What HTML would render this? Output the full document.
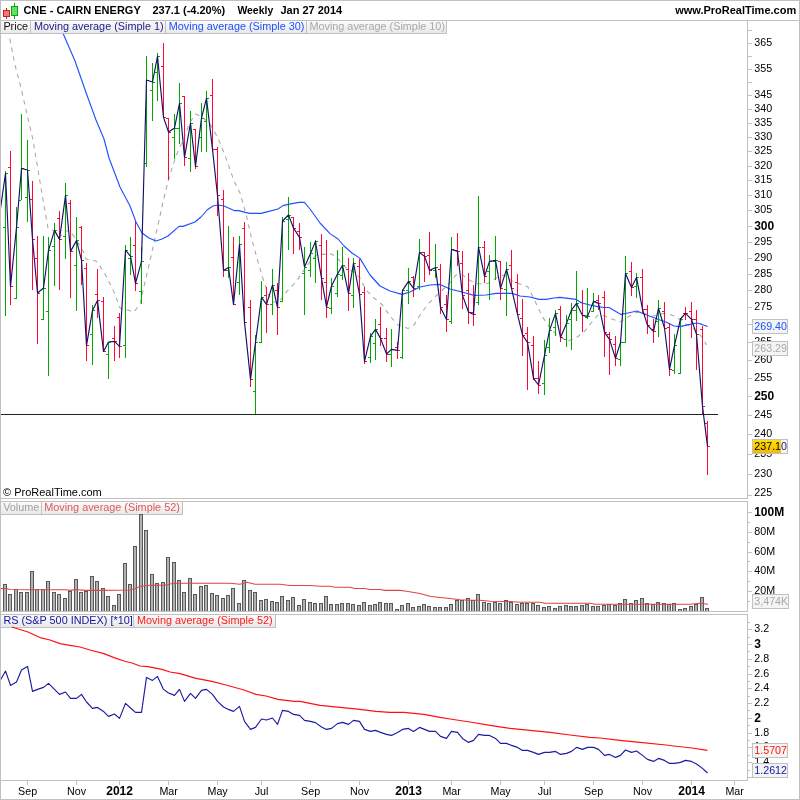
<!DOCTYPE html>
<html lang="en"><head><meta charset="utf-8"><title>CNE - CAIRN ENERGY Weekly</title>
<style>html,body{margin:0;padding:0;background:#fff;}svg{display:block;}text{font-family:"Liberation Sans", Arial, Helvetica, sans-serif;font-size:11px;fill:#000;}.b{font-weight:bold;}.crisp{shape-rendering:crispEdges;}</style></head><body>
<svg width="800" height="800" viewBox="0 0 800 800">
<rect x="0" y="0" width="800" height="800" fill="#ffffff"/>
<defs>
<clipPath id="cp"><rect x="1" y="21" width="746" height="477"/></clipPath>
<clipPath id="cv"><rect x="1" y="502" width="746" height="109"/></clipPath>
<clipPath id="cr"><rect x="1" y="615" width="746" height="165"/></clipPath>
<linearGradient id="tg" x1="0" y1="0" x2="0" y2="1"><stop offset="0" stop-color="#fafafa"/><stop offset="1" stop-color="#e9e9e9"/></linearGradient>
<linearGradient id="yg" x1="0" y1="0" x2="0" y2="1"><stop offset="0" stop-color="#ffe000"/><stop offset="1" stop-color="#f3ba00"/></linearGradient>
</defs>
<g class="crisp" fill="none" stroke="#c0c0c0" stroke-width="1">
<rect x="0.5" y="0.5" width="799" height="799"/>
<line x1="0" y1="20.5" x2="800" y2="20.5"/>
<rect x="0.5" y="20.5" width="747" height="478"/>
<rect x="0.5" y="501.5" width="747" height="110"/>
<rect x="0.5" y="614.5" width="747" height="166"/>
</g>
<g class="crisp">
<line x1="6.5" y1="8" x2="6.5" y2="19" stroke="#cc2222"/>
<rect x="3.5" y="10.5" width="6" height="6" fill="#f27878" stroke="#cc2222"/>
<line x1="14.5" y1="3" x2="14.5" y2="19" stroke="#10a010"/>
<rect x="11.5" y="6.5" width="6" height="9" fill="#60e460" stroke="#10a010"/>
</g>
<text class="b" x="23.4" y="14">CNE - CAIRN ENERGY</text>
<text class="b" x="152.4" y="14">237.1 (-4.20%)</text>
<text class="b" x="237.4" y="14" textLength="35.8" lengthAdjust="spacingAndGlyphs">Weekly</text>
<text class="b" x="280.4" y="14">Jan 27 2014</text>
<text class="b" x="796.2" y="14" text-anchor="end">www.ProRealTime.com</text>
<g class="crisp" stroke="#c0c0c0">
<line x1="748" y1="495.5" x2="752" y2="495.5"/>
<line x1="748" y1="474.5" x2="752" y2="474.5"/>
<line x1="748" y1="454.5" x2="752" y2="454.5"/>
<line x1="748" y1="434.5" x2="752" y2="434.5"/>
<line x1="748" y1="415.5" x2="752" y2="415.5"/>
<line x1="748" y1="396.5" x2="752" y2="396.5"/>
<line x1="748" y1="378.5" x2="752" y2="378.5"/>
<line x1="748" y1="360.5" x2="752" y2="360.5"/>
<line x1="748" y1="342.5" x2="752" y2="342.5"/>
<line x1="748" y1="324.5" x2="752" y2="324.5"/>
<line x1="748" y1="307.5" x2="752" y2="307.5"/>
<line x1="748" y1="290.5" x2="752" y2="290.5"/>
<line x1="748" y1="274.5" x2="752" y2="274.5"/>
<line x1="748" y1="258.5" x2="752" y2="258.5"/>
<line x1="748" y1="242.5" x2="752" y2="242.5"/>
<line x1="748" y1="226.5" x2="752" y2="226.5"/>
<line x1="748" y1="210.5" x2="752" y2="210.5"/>
<line x1="748" y1="195.5" x2="752" y2="195.5"/>
<line x1="748" y1="180.5" x2="752" y2="180.5"/>
<line x1="748" y1="166.5" x2="752" y2="166.5"/>
<line x1="748" y1="151.5" x2="752" y2="151.5"/>
<line x1="748" y1="137.5" x2="752" y2="137.5"/>
<line x1="748" y1="123.5" x2="752" y2="123.5"/>
<line x1="748" y1="109.5" x2="752" y2="109.5"/>
<line x1="748" y1="95.5" x2="752" y2="95.5"/>
<line x1="748" y1="82.5" x2="752" y2="82.5"/>
<line x1="748" y1="69.5" x2="752" y2="69.5"/>
<line x1="748" y1="56.5" x2="752" y2="56.5"/>
<line x1="748" y1="43.5" x2="752" y2="43.5"/>
<line x1="748" y1="30.5" x2="752" y2="30.5"/>
</g>
<text x="754.3" y="495.9" style="font-size:10.7px">225</text>
<text x="754.3" y="476.9" style="font-size:10.7px">230</text>
<text x="754.3" y="456.9" style="font-size:10.7px">235</text>
<text x="754.3" y="436.9" style="font-size:10.7px">240</text>
<text x="754.3" y="417.9" style="font-size:10.7px">245</text>
<text class="b" x="754.2" y="399.7" style="font-size:12px">250</text>
<text x="754.3" y="380.9" style="font-size:10.7px">255</text>
<text x="754.3" y="362.9" style="font-size:10.7px">260</text>
<text x="754.3" y="344.9" style="font-size:10.7px">265</text>
<text x="754.3" y="326.9" style="font-size:10.7px">270</text>
<text x="754.3" y="309.9" style="font-size:10.7px">275</text>
<text x="754.3" y="292.9" style="font-size:10.7px">280</text>
<text x="754.3" y="276.9" style="font-size:10.7px">285</text>
<text x="754.3" y="260.9" style="font-size:10.7px">290</text>
<text x="754.3" y="244.9" style="font-size:10.7px">295</text>
<text class="b" x="754.2" y="229.7" style="font-size:12px">300</text>
<text x="754.3" y="212.9" style="font-size:10.7px">305</text>
<text x="754.3" y="197.9" style="font-size:10.7px">310</text>
<text x="754.3" y="182.9" style="font-size:10.7px">315</text>
<text x="754.3" y="168.9" style="font-size:10.7px">320</text>
<text x="754.3" y="153.9" style="font-size:10.7px">325</text>
<text x="754.3" y="139.9" style="font-size:10.7px">330</text>
<text x="754.3" y="125.9" style="font-size:10.7px">335</text>
<text x="754.3" y="111.9" style="font-size:10.7px">340</text>
<text x="754.3" y="97.9" style="font-size:10.7px">345</text>
<text x="754.3" y="71.9" style="font-size:10.7px">355</text>
<text x="754.3" y="45.9" style="font-size:10.7px">365</text>
<g clip-path="url(#cp)">
<polyline points="6,21 9,35 15,65 21,88 27,114 33,140 38,170 43,200 48,228 54,231 60,237 65,231 70,231 76,239 84,253 86,259 96,261 104,272 114,292 120,308 128,310 134,312 140,304 146,278 152,252 158,225 163,202 168,181 176,156 184,138 190,122 196,114 202,117 210,124 218,138 226,158 234,181 240,193 246,214 252,240 258,262 264,282 268,294 273,302 279,302 285,294 288,290 296,282 304,270 312,259 318,254 325,254.4 332,254 338,259 346,268 354,272 360,278 366,290 374,298 382,304.5 390,316 398,325 408,328.4 414,325 422,312 430,302 440,292 448,285 456,275 462,274.5 470,280.5 478,284 488,283.3 496,278 504,275 512,281 520,284 528,287 534,299 542,316 550,328 558,336 568,341 576,338 584,332 592,322 598,315 604,315.6 612,319 620,322 628,317 636,312.5 641,312.5 647,314.2 653,316 658,315 662.6,313.4 669.4,314.2 676,316.8 680.6,320 685,323.75 690.75,326.6 696.4,330.5 702,337.25 706.5,345" fill="none" stroke="#aaaaaa" stroke-width="1.1" stroke-dasharray="4.5 4.5"/>
<path class="crisp" d="M5.5 171V316M3 227.5H5M6 173.5H8M16.5 207V299M14 298.5H16M17 227.5H19M21.5 114V200M19 200.5H21M22 168.5H24M27.5 140V222M25 197.5H27M28 170.5H30M43.5 236V320M41 319.5H43M44 288.5H46M48.5 237V376M46 311.5H48M49 250.5H51M54.5 223V286M52 246.5H54M55 230.5H57M65.5 183V259M63 236.5H65M66 195.5H68M76.5 217V311M74 265.5H76M77 240.5H79M92.5 305V365M90 334.5H92M93 310.5H95M108.5 342V379M106 354.5H108M109 342.5H111M125.5 245V358M123 345.5H125M126 250.5H128M130.5 237V275M128 258.5H130M131 256.5H133M141.5 247V304M139 291.5H141M142 261.5H144M146.5 56V167M144 163.5H146M147 80.5H149M152.5 63V121M150 90.5H152M153 82.5H155M157.5 53V101M155 72.5H157M158 56.5H160M174.5 114V159M172 137.5H174M175 128.5H177M179.5 83V144M177 128.5H179M180 103.5H182M190.5 111V172M188 158.5H190M191 123.5H193M201.5 103V152M199 137.5H201M202 118.5H204M206.5 91V152M204 121.5H206M207 98.5H209M228.5 226V278M226 270.5H228M229 267.5H231M239.5 236V295M237 282.5H239M240 244.5H242M255.5 335V415M253 391.5H255M256 342.5H258M261.5 281V343M259 342.5H261M262 297.5H264M272.5 269V315M270 304.5H272M273 285.5H275M282.5 217V302M280 301.5H282M283 221.5H285M288.5 197V250M286 219.5H288M289 215.5H291M304.5 247V315M302 273.5H304M305 267.5H307M310.5 242V277M308 270.5H310M311 253.5H313M315.5 240V283M313 258.5H315M316 241.5H318M331.5 278V314M329 308.5H331M332 286.5H334M337.5 250V297M335 293.5H337M338 274.5H340M342.5 247V280M340 275.5H342M343 265.5H345M353.5 258V308M351 295.5H353M354 263.5H356M370.5 333V363M368 357.5H370M371 336.5H373M375.5 319V360M373 343.5H375M376 329.5H378M391.5 329V367M389 354.5H391M392 349.5H394M402.5 290V359M400 357.5H402M403 290.5H405M408.5 268V304M406 290.5H408M409 281.5H411M419.5 239V290M417 286.5H419M420 252.5H422M435.5 244V278M433 270.5H435M436 267.5H438M451.5 237V324M449 321.5H451M452 249.5H454M478.5 196V305M476 302.5H478M479 247.5H481M489.5 255V300M487 271.5H489M490 261.5H492M495.5 236V280M493 261.5H495M496 260.5H498M506.5 262V316M504 289.5H506M507 269.5H509M544.5 340V395M542 383.5H544M545 355.5H547M549.5 318V353M547 347.5H549M550 330.5H552M555.5 310V336M553 327.5H555M556 313.5H558M566.5 315V347M564 339.5H566M567 323.5H569M571.5 303V350M569 319.5H571M572 310.5H574M576.5 271V321M574 310.5H576M577 303.5H579M587.5 288V319M585 317.5H587M588 316.5H590M593.5 293V312M591 311.5H593M594 301.5H596M620.5 340V366M618 359.5H620M621 342.5H623M625.5 256V343M623 342.5H625M626 273.5H628M636.5 273V298M634 286.5H636M637 277.5H639M658.5 300V337M656 321.5H658M659 308.5H661M674.5 334V374M672 370.5H674M675 345.5H677M680.5 318V374M678 373.5H680M681 319.5H683" fill="none" stroke="#00a800" stroke-width="1"/>
<path class="crisp" d="M10.5 151V305M8 167.5H10M11 286.5H13M32.5 181V290M30 199.5H32M33 239.5H35M37.5 236V344M35 258.5H37M38 293.5H40M59.5 211V290M57 218.5H59M60 239.5H62M70.5 200V298M68 203.5H70M71 251.5H73M81.5 226V285M79 227.5H81M82 260.5H84M86.5 263V361M84 268.5H86M87 345.5H89M97.5 269V318M95 294.5H97M98 300.5H100M103.5 297V352M101 301.5H103M104 351.5H106M114.5 326V361M112 338.5H114M115 341.5H117M119.5 313V358M117 317.5H119M120 346.5H122M135.5 221V291M133 245.5H135M136 283.5H138M163.5 43V118M161 66.5H163M164 117.5H166M168.5 118V180M166 118.5H168M169 132.5H171M184.5 96V166M182 96.5H184M185 157.5H187M195.5 129V169M193 129.5H195M196 166.5H198M212.5 79V152M210 95.5H212M213 149.5H215M217.5 147V216M215 149.5H217M218 195.5H220M223.5 190V277M221 199.5H223M224 270.5H226M233.5 237V305M231 257.5H233M234 304.5H236M244.5 222V323M242 228.5H244M245 322.5H247M250.5 300V387M248 307.5H250M251 379.5H253M266.5 287V333M264 295.5H266M267 304.5H269M277.5 283V335M275 290.5H277M278 307.5H280M293.5 217V254M291 217.5H293M294 228.5H296M299.5 223V250M297 231.5H299M300 237.5H302M321.5 234V300M319 245.5H321M322 278.5H324M326.5 240V318M324 282.5H326M327 307.5H329M348.5 258V311M346 269.5H348M349 293.5H351M359.5 259V295M357 266.5H359M360 294.5H362M364.5 287V364M362 292.5H364M365 361.5H367M380.5 307V346M378 324.5H380M381 338.5H383M386.5 328V362M384 338.5H386M387 354.5H389M397.5 342V359M395 347.5H397M398 350.5H400M413.5 276V297M411 277.5H413M414 288.5H416M424.5 252V282M422 252.5H424M425 256.5H427M429.5 232V275M427 255.5H429M430 270.5H432M440.5 264V314M438 269.5H440M441 307.5H443M446.5 295V332M444 304.5H446M447 319.5H449M457.5 233V266M455 250.5H457M458 251.5H460M462.5 251V309M460 263.5H462M463 295.5H465M468.5 273V324M466 290.5H468M469 312.5H471M473.5 285V326M471 312.5H473M474 314.5H476M484.5 241V283M482 247.5H484M485 276.5H487M500.5 261V300M498 261.5H500M501 288.5H503M511.5 250V289M509 265.5H511M512 288.5H514M517.5 274V315M515 282.5H517M518 314.5H520M522.5 299V356M520 318.5H522M523 335.5H525M527.5 327V390M525 333.5H527M528 342.5H530M533.5 336V380M531 345.5H533M534 378.5H536M538.5 361V394M536 378.5H538M539 385.5H541M560.5 306V342M558 309.5H560M561 337.5H563M582.5 290V332M580 302.5H582M583 315.5H585M598.5 295V310M596 300.5H598M599 303.5H601M604.5 291V357M602 297.5H604M605 332.5H607M609.5 332V375M607 334.5H609M610 339.5H612M615.5 336V366M613 344.5H615M616 358.5H618M631.5 262V296M629 271.5H631M632 287.5H634M642.5 269V313M640 277.5H642M643 309.5H645M647.5 305V334M645 309.5H647M648 325.5H650M653.5 319V343M651 329.5H653M654 331.5H656M664.5 302V329M662 311.5H664M665 328.5H667M669.5 323V376M667 327.5H669M670 369.5H672M685.5 307V320M683 313.5H685M686 313.5H688M691.5 302V338M689 311.5H691M692 319.5H694M696.5 310V370M694 319.5H696M697 334.5H699M702.5 326V414M700 329.5H702M703 406.5H705M707.5 421V475M705 423.5H707M708 446.5H710" fill="none" stroke="#ff0838" stroke-width="1"/>
<line class="crisp" x1="1" y1="414.5" x2="718" y2="414.5" stroke="#222222"/>
<polyline points="58,21 63.75,35 75,61 86,92.5 96,120 104,139 109,158 120,187 130,206 136,222 142,233 149,238 156,241 162,239 168,236 179,226.4 183,226.4 195,222 201,217 207,210 213,206 218,205 224,206 234,210.6 239,210.6 245,212.4 250,213.4 261,213.4 268,211.6 278,209 283,205.6 288,204.4 299,202.4 304.4,202.4 310,209 320,223 330,233.6 338,239 344,246 352,253 360,258.4 370,275 380,286 390,291 402,294.4 410,292 420,287 430,285 440,284.4 450,289 462,292 474,295.4 486,295 496,293.4 512,293.4 520,296 530,297 539,299.4 546,299.4 554,298 560,297.4 568,298.4 576,299.4 582,303 590,305 598,306.6 604,307.5 609,307.5 615,311 621,314.4 628,313 637,311 644,314 652,317 660,320 666,322 674,326 680,326.6 690,324.4 697,323 702,324.4 707.6,326.6" fill="none" stroke="#1f4fff" stroke-width="1.12" stroke-linejoin="round"/>
<polyline points="0,212 5.5,173.4 10.5,286.4 16.5,227.4 21.5,168.4 27.5,170 32.5,239.4 37.5,293 43.5,288 48.5,250.4 54.5,230.4 59.5,239.4 65.5,195.6 70.5,251.4 76.5,240.6 81.5,260 86.5,345.4 92.5,310.4 97.5,300.4 103.5,351.4 108.5,342 114.5,341.4 119.5,346.4 125.5,250 130.5,256.4 135.5,283.4 141.5,261.4 146.5,80 152.5,82 157.5,56.4 163.5,117.4 168.5,132 174.5,128 179.5,103.4 184.5,157.4 190.5,123 195.5,166.4 201.5,118 206.5,98.4 212.5,149.4 217.5,195.4 223.5,270.4 228.5,267.4 233.5,304.4 239.5,244.4 244.5,322.4 250.5,379.4 255.5,342.4 261.5,297.4 266.5,304.4 272.5,285 277.5,307.4 282.5,221 288.5,215 293.5,228 299.5,237.4 304.5,267 310.5,253.4 315.5,241.4 321.5,278.4 326.5,307 331.5,286 337.5,274 342.5,265.4 348.5,293.4 353.5,263 359.5,294.4 364.5,361.4 370.5,336.4 375.5,329.4 380.5,338.4 386.5,354 391.5,349.4 397.5,350.4 402.5,290.4 408.5,281.4 413.5,288.4 419.5,252.4 424.5,256.4 429.5,270.4 435.5,267.4 440.5,307.4 446.5,319.4 451.5,249.4 457.5,251.4 462.5,295.4 468.5,312 473.5,314.4 478.5,247 484.5,276.4 489.5,261.4 495.5,260.4 500.5,288.4 506.5,269.4 511.5,288.4 517.5,314.4 522.5,335 527.5,342.4 533.5,378.4 538.5,385 544.5,355.4 549.5,330.4 555.5,313.4 560.5,337.4 566.5,323.4 571.5,310 576.5,303.4 582.5,315.4 587.5,316.4 593.5,301.4 598.5,303.4 604.5,332.4 609.5,339.4 615.5,358.4 620.5,342.4 625.5,273.4 631.5,287.4 636.5,277.4 642.5,309.4 647.5,325.4 653.5,331.4 658.5,308.4 664.5,328 669.5,369.4 674.5,345.4 680.5,319 685.5,313.4 691.5,319.4 696.5,334.4 702.5,406.4 707.5,446.4" fill="none" stroke="#12126a" stroke-width="1.15" stroke-linejoin="round"/>
</g>
<rect class="crisp" x="1" y="21" width="29" height="12" fill="url(#tg)"/>
<path class="crisp" d="M30.5 21V33.5H1" fill="none" stroke="#c0c0c0"/>
<text x="3.4" y="29.8" style="fill:#111111;font-size:10.85px">Price</text>
<rect class="crisp" x="31" y="21" width="134" height="12" fill="url(#tg)"/>
<path class="crisp" d="M165.5 21V33.5H31" fill="none" stroke="#c0c0c0"/>
<text x="34" y="29.8" style="fill:#1a1a8a;font-size:10.85px">Moving average (Simple 1)</text>
<rect class="crisp" x="166" y="21" width="140" height="12" fill="url(#tg)"/>
<path class="crisp" d="M306.5 21V33.5H166" fill="none" stroke="#c0c0c0"/>
<text x="168.8" y="29.8" style="fill:#1f4fff;font-size:10.85px">Moving average (Simple 30)</text>
<rect class="crisp" x="307" y="21" width="139" height="12" fill="url(#tg)"/>
<path class="crisp" d="M446.5 21V33.5H307" fill="none" stroke="#c0c0c0"/>
<text x="309.4" y="29.8" style="fill:#a8a8a8;font-size:10.85px">Moving average (Simple 10)</text>
<rect class="crisp" x="752.5" y="319.5" width="35" height="14" fill="#f4f4f4" stroke="#c0c0c0"/>
<text x="754.3" y="330" style="fill:#1f4fff;font-size:10.7px">269.40</text>
<rect class="crisp" x="752.5" y="341.5" width="35" height="14" fill="#f4f4f4" stroke="#c0c0c0"/>
<text x="754.3" y="352" style="fill:#a8a8a8;font-size:10.7px">263.29</text>
<rect class="crisp" x="752.5" y="439.5" width="35" height="14" fill="#f4f4f4" stroke="#c0c0c0"/>
<rect class="crisp" x="753" y="440" width="28" height="13" fill="url(#yg)"/>
<text x="754.3" y="450" style="fill:#000;font-size:10.7px">237.1<tspan style="fill:#1a1a8a">0</tspan></text>
<text x="3" y="495.6">© ProRealTime.com</text>
<rect class="crisp" x="1" y="502" width="40" height="12" fill="url(#tg)"/>
<path class="crisp" d="M41.5 502V514.5H1" fill="none" stroke="#c0c0c0"/>
<text x="3.2" y="510.8" style="fill:#a0a0a0;font-size:10.85px">Volume</text>
<rect class="crisp" x="42" y="502" width="140" height="12" fill="url(#tg)"/>
<path class="crisp" d="M182.5 502V514.5H42" fill="none" stroke="#c0c0c0"/>
<text x="44.2" y="510.8" style="fill:#e05858;font-size:10.85px">Moving average (Simple 52)</text>
<g clip-path="url(#cv)">
<g class="crisp"><rect x="3" y="584" width="4" height="27" fill="#585858"/><rect x="4" y="585" width="2" height="26" fill="#b2b2b2"/><rect x="8" y="594" width="4" height="17" fill="#585858"/><rect x="9" y="595" width="2" height="16" fill="#b2b2b2"/><rect x="14" y="589" width="4" height="22" fill="#585858"/><rect x="15" y="590" width="2" height="21" fill="#b2b2b2"/><rect x="19" y="592" width="4" height="19" fill="#585858"/><rect x="20" y="593" width="2" height="18" fill="#b2b2b2"/><rect x="25" y="592" width="4" height="19" fill="#585858"/><rect x="26" y="593" width="2" height="18" fill="#b2b2b2"/><rect x="30" y="571" width="4" height="40" fill="#585858"/><rect x="31" y="572" width="2" height="39" fill="#b2b2b2"/><rect x="35" y="589" width="4" height="22" fill="#585858"/><rect x="36" y="590" width="2" height="21" fill="#b2b2b2"/><rect x="41" y="589" width="4" height="22" fill="#585858"/><rect x="42" y="590" width="2" height="21" fill="#b2b2b2"/><rect x="46" y="581" width="4" height="30" fill="#585858"/><rect x="47" y="582" width="2" height="29" fill="#b2b2b2"/><rect x="52" y="592" width="4" height="19" fill="#585858"/><rect x="53" y="593" width="2" height="18" fill="#b2b2b2"/><rect x="57" y="594" width="4" height="17" fill="#585858"/><rect x="58" y="595" width="2" height="16" fill="#b2b2b2"/><rect x="63" y="598" width="4" height="13" fill="#585858"/><rect x="64" y="599" width="2" height="12" fill="#b2b2b2"/><rect x="68" y="591" width="4" height="20" fill="#585858"/><rect x="69" y="592" width="2" height="19" fill="#b2b2b2"/><rect x="74" y="579" width="4" height="32" fill="#585858"/><rect x="75" y="580" width="2" height="31" fill="#b2b2b2"/><rect x="79" y="592" width="4" height="19" fill="#585858"/><rect x="80" y="593" width="2" height="18" fill="#b2b2b2"/><rect x="84" y="591" width="4" height="20" fill="#585858"/><rect x="85" y="592" width="2" height="19" fill="#b2b2b2"/><rect x="90" y="576" width="4" height="35" fill="#585858"/><rect x="91" y="577" width="2" height="34" fill="#b2b2b2"/><rect x="95" y="581" width="4" height="30" fill="#585858"/><rect x="96" y="582" width="2" height="29" fill="#b2b2b2"/><rect x="101" y="588" width="4" height="23" fill="#585858"/><rect x="102" y="589" width="2" height="22" fill="#b2b2b2"/><rect x="106" y="596" width="4" height="15" fill="#585858"/><rect x="107" y="597" width="2" height="14" fill="#b2b2b2"/><rect x="112" y="605" width="4" height="6" fill="#585858"/><rect x="113" y="606" width="2" height="5" fill="#b2b2b2"/><rect x="117" y="594" width="4" height="17" fill="#585858"/><rect x="118" y="595" width="2" height="16" fill="#b2b2b2"/><rect x="123" y="563" width="4" height="48" fill="#585858"/><rect x="124" y="564" width="2" height="47" fill="#b2b2b2"/><rect x="128" y="584" width="4" height="27" fill="#585858"/><rect x="129" y="585" width="2" height="26" fill="#b2b2b2"/><rect x="133" y="546" width="4" height="65" fill="#585858"/><rect x="134" y="547" width="2" height="64" fill="#b2b2b2"/><rect x="139" y="514" width="4" height="97" fill="#585858"/><rect x="140" y="515" width="2" height="96" fill="#b2b2b2"/><rect x="144" y="530" width="4" height="81" fill="#585858"/><rect x="145" y="531" width="2" height="80" fill="#b2b2b2"/><rect x="150" y="574" width="4" height="37" fill="#585858"/><rect x="151" y="575" width="2" height="36" fill="#b2b2b2"/><rect x="155" y="583" width="4" height="28" fill="#585858"/><rect x="156" y="584" width="2" height="27" fill="#b2b2b2"/><rect x="161" y="582" width="4" height="29" fill="#585858"/><rect x="162" y="583" width="2" height="28" fill="#b2b2b2"/><rect x="166" y="557" width="4" height="54" fill="#585858"/><rect x="167" y="558" width="2" height="53" fill="#b2b2b2"/><rect x="172" y="562" width="4" height="49" fill="#585858"/><rect x="173" y="563" width="2" height="48" fill="#b2b2b2"/><rect x="177" y="580" width="4" height="31" fill="#585858"/><rect x="178" y="581" width="2" height="30" fill="#b2b2b2"/><rect x="182" y="592" width="4" height="19" fill="#585858"/><rect x="183" y="593" width="2" height="18" fill="#b2b2b2"/><rect x="188" y="578" width="4" height="33" fill="#585858"/><rect x="189" y="579" width="2" height="32" fill="#b2b2b2"/><rect x="193" y="594" width="4" height="17" fill="#585858"/><rect x="194" y="595" width="2" height="16" fill="#b2b2b2"/><rect x="199" y="586" width="4" height="25" fill="#585858"/><rect x="200" y="587" width="2" height="24" fill="#b2b2b2"/><rect x="204" y="585" width="4" height="26" fill="#585858"/><rect x="205" y="586" width="2" height="25" fill="#b2b2b2"/><rect x="210" y="593" width="4" height="18" fill="#585858"/><rect x="211" y="594" width="2" height="17" fill="#b2b2b2"/><rect x="215" y="595" width="4" height="16" fill="#585858"/><rect x="216" y="596" width="2" height="15" fill="#b2b2b2"/><rect x="221" y="598" width="4" height="13" fill="#585858"/><rect x="222" y="599" width="2" height="12" fill="#b2b2b2"/><rect x="226" y="595" width="4" height="16" fill="#585858"/><rect x="227" y="596" width="2" height="15" fill="#b2b2b2"/><rect x="231" y="588" width="4" height="23" fill="#585858"/><rect x="232" y="589" width="2" height="22" fill="#b2b2b2"/><rect x="237" y="603" width="4" height="8" fill="#585858"/><rect x="238" y="604" width="2" height="7" fill="#b2b2b2"/><rect x="242" y="580" width="4" height="31" fill="#585858"/><rect x="243" y="581" width="2" height="30" fill="#b2b2b2"/><rect x="248" y="590" width="4" height="21" fill="#585858"/><rect x="249" y="591" width="2" height="20" fill="#b2b2b2"/><rect x="253" y="592" width="4" height="19" fill="#585858"/><rect x="254" y="593" width="2" height="18" fill="#b2b2b2"/><rect x="259" y="600" width="4" height="11" fill="#585858"/><rect x="260" y="601" width="2" height="10" fill="#b2b2b2"/><rect x="264" y="599" width="4" height="12" fill="#585858"/><rect x="265" y="600" width="2" height="11" fill="#b2b2b2"/><rect x="270" y="601" width="4" height="10" fill="#585858"/><rect x="271" y="602" width="2" height="9" fill="#b2b2b2"/><rect x="275" y="602" width="4" height="9" fill="#585858"/><rect x="276" y="603" width="2" height="8" fill="#b2b2b2"/><rect x="280" y="596" width="4" height="15" fill="#585858"/><rect x="281" y="597" width="2" height="14" fill="#b2b2b2"/><rect x="286" y="600" width="4" height="11" fill="#585858"/><rect x="287" y="601" width="2" height="10" fill="#b2b2b2"/><rect x="291" y="597" width="4" height="14" fill="#585858"/><rect x="292" y="598" width="2" height="13" fill="#b2b2b2"/><rect x="297" y="605" width="4" height="6" fill="#585858"/><rect x="298" y="606" width="2" height="5" fill="#b2b2b2"/><rect x="302" y="599" width="4" height="12" fill="#585858"/><rect x="303" y="600" width="2" height="11" fill="#b2b2b2"/><rect x="308" y="602" width="4" height="9" fill="#585858"/><rect x="309" y="603" width="2" height="8" fill="#b2b2b2"/><rect x="313" y="603" width="4" height="8" fill="#585858"/><rect x="314" y="604" width="2" height="7" fill="#b2b2b2"/><rect x="319" y="603" width="4" height="8" fill="#585858"/><rect x="320" y="604" width="2" height="7" fill="#b2b2b2"/><rect x="324" y="596" width="4" height="15" fill="#585858"/><rect x="325" y="597" width="2" height="14" fill="#b2b2b2"/><rect x="329" y="604" width="4" height="7" fill="#585858"/><rect x="330" y="605" width="2" height="6" fill="#b2b2b2"/><rect x="335" y="604" width="4" height="7" fill="#585858"/><rect x="336" y="605" width="2" height="6" fill="#b2b2b2"/><rect x="340" y="603" width="4" height="8" fill="#585858"/><rect x="341" y="604" width="2" height="7" fill="#b2b2b2"/><rect x="346" y="603" width="4" height="8" fill="#585858"/><rect x="347" y="604" width="2" height="7" fill="#b2b2b2"/><rect x="351" y="604" width="4" height="7" fill="#585858"/><rect x="352" y="605" width="2" height="6" fill="#b2b2b2"/><rect x="357" y="605" width="4" height="6" fill="#585858"/><rect x="358" y="606" width="2" height="5" fill="#b2b2b2"/><rect x="362" y="602" width="4" height="9" fill="#585858"/><rect x="363" y="603" width="2" height="8" fill="#b2b2b2"/><rect x="368" y="605" width="4" height="6" fill="#585858"/><rect x="369" y="606" width="2" height="5" fill="#b2b2b2"/><rect x="373" y="604" width="4" height="7" fill="#585858"/><rect x="374" y="605" width="2" height="6" fill="#b2b2b2"/><rect x="378" y="602" width="4" height="9" fill="#585858"/><rect x="379" y="603" width="2" height="8" fill="#b2b2b2"/><rect x="384" y="603" width="4" height="8" fill="#585858"/><rect x="385" y="604" width="2" height="7" fill="#b2b2b2"/><rect x="389" y="603" width="4" height="8" fill="#585858"/><rect x="390" y="604" width="2" height="7" fill="#b2b2b2"/><rect x="395" y="609" width="4" height="2" fill="#585858"/><rect x="396" y="610" width="2" height="1" fill="#b2b2b2"/><rect x="400" y="605" width="4" height="6" fill="#585858"/><rect x="401" y="606" width="2" height="5" fill="#b2b2b2"/><rect x="406" y="603" width="4" height="8" fill="#585858"/><rect x="407" y="604" width="2" height="7" fill="#b2b2b2"/><rect x="411" y="607" width="4" height="4" fill="#585858"/><rect x="412" y="608" width="2" height="3" fill="#b2b2b2"/><rect x="417" y="606" width="4" height="5" fill="#585858"/><rect x="418" y="607" width="2" height="4" fill="#b2b2b2"/><rect x="422" y="604" width="4" height="7" fill="#585858"/><rect x="423" y="605" width="2" height="6" fill="#b2b2b2"/><rect x="427" y="606" width="4" height="5" fill="#585858"/><rect x="428" y="607" width="2" height="4" fill="#b2b2b2"/><rect x="433" y="607" width="4" height="4" fill="#585858"/><rect x="434" y="608" width="2" height="3" fill="#b2b2b2"/><rect x="438" y="607" width="4" height="4" fill="#585858"/><rect x="439" y="608" width="2" height="3" fill="#b2b2b2"/><rect x="444" y="607" width="4" height="4" fill="#585858"/><rect x="445" y="608" width="2" height="3" fill="#b2b2b2"/><rect x="449" y="604" width="4" height="7" fill="#585858"/><rect x="450" y="605" width="2" height="6" fill="#b2b2b2"/><rect x="455" y="600" width="4" height="11" fill="#585858"/><rect x="456" y="601" width="2" height="10" fill="#b2b2b2"/><rect x="460" y="600" width="4" height="11" fill="#585858"/><rect x="461" y="601" width="2" height="10" fill="#b2b2b2"/><rect x="466" y="598" width="4" height="13" fill="#585858"/><rect x="467" y="599" width="2" height="12" fill="#b2b2b2"/><rect x="471" y="600" width="4" height="11" fill="#585858"/><rect x="472" y="601" width="2" height="10" fill="#b2b2b2"/><rect x="476" y="594" width="4" height="17" fill="#585858"/><rect x="477" y="595" width="2" height="16" fill="#b2b2b2"/><rect x="482" y="602" width="4" height="9" fill="#585858"/><rect x="483" y="603" width="2" height="8" fill="#b2b2b2"/><rect x="487" y="603" width="4" height="8" fill="#585858"/><rect x="488" y="604" width="2" height="7" fill="#b2b2b2"/><rect x="493" y="602" width="4" height="9" fill="#585858"/><rect x="494" y="603" width="2" height="8" fill="#b2b2b2"/><rect x="498" y="603" width="4" height="8" fill="#585858"/><rect x="499" y="604" width="2" height="7" fill="#b2b2b2"/><rect x="504" y="600" width="4" height="11" fill="#585858"/><rect x="505" y="601" width="2" height="10" fill="#b2b2b2"/><rect x="509" y="602" width="4" height="9" fill="#585858"/><rect x="510" y="603" width="2" height="8" fill="#b2b2b2"/><rect x="515" y="604" width="4" height="7" fill="#585858"/><rect x="516" y="605" width="2" height="6" fill="#b2b2b2"/><rect x="520" y="603" width="4" height="8" fill="#585858"/><rect x="521" y="604" width="2" height="7" fill="#b2b2b2"/><rect x="525" y="603" width="4" height="8" fill="#585858"/><rect x="526" y="604" width="2" height="7" fill="#b2b2b2"/><rect x="531" y="603" width="4" height="8" fill="#585858"/><rect x="532" y="604" width="2" height="7" fill="#b2b2b2"/><rect x="536" y="605" width="4" height="6" fill="#585858"/><rect x="537" y="606" width="2" height="5" fill="#b2b2b2"/><rect x="542" y="607" width="4" height="4" fill="#585858"/><rect x="543" y="608" width="2" height="3" fill="#b2b2b2"/><rect x="547" y="606" width="4" height="5" fill="#585858"/><rect x="548" y="607" width="2" height="4" fill="#b2b2b2"/><rect x="553" y="608" width="4" height="3" fill="#585858"/><rect x="554" y="609" width="2" height="2" fill="#b2b2b2"/><rect x="558" y="606" width="4" height="5" fill="#585858"/><rect x="559" y="607" width="2" height="4" fill="#b2b2b2"/><rect x="564" y="605" width="4" height="6" fill="#585858"/><rect x="565" y="606" width="2" height="5" fill="#b2b2b2"/><rect x="569" y="606" width="4" height="5" fill="#585858"/><rect x="570" y="607" width="2" height="4" fill="#b2b2b2"/><rect x="574" y="606" width="4" height="5" fill="#585858"/><rect x="575" y="607" width="2" height="4" fill="#b2b2b2"/><rect x="580" y="605" width="4" height="6" fill="#585858"/><rect x="581" y="606" width="2" height="5" fill="#b2b2b2"/><rect x="585" y="604" width="4" height="7" fill="#585858"/><rect x="586" y="605" width="2" height="6" fill="#b2b2b2"/><rect x="591" y="606" width="4" height="5" fill="#585858"/><rect x="592" y="607" width="2" height="4" fill="#b2b2b2"/><rect x="596" y="606" width="4" height="5" fill="#585858"/><rect x="597" y="607" width="2" height="4" fill="#b2b2b2"/><rect x="602" y="605" width="4" height="6" fill="#585858"/><rect x="603" y="606" width="2" height="5" fill="#b2b2b2"/><rect x="607" y="604" width="4" height="7" fill="#585858"/><rect x="608" y="605" width="2" height="6" fill="#b2b2b2"/><rect x="613" y="605" width="4" height="6" fill="#585858"/><rect x="614" y="606" width="2" height="5" fill="#b2b2b2"/><rect x="618" y="603" width="4" height="8" fill="#585858"/><rect x="619" y="604" width="2" height="7" fill="#b2b2b2"/><rect x="623" y="599" width="4" height="12" fill="#585858"/><rect x="624" y="600" width="2" height="11" fill="#b2b2b2"/><rect x="629" y="603" width="4" height="8" fill="#585858"/><rect x="630" y="604" width="2" height="7" fill="#b2b2b2"/><rect x="634" y="600" width="4" height="11" fill="#585858"/><rect x="635" y="601" width="2" height="10" fill="#b2b2b2"/><rect x="640" y="598" width="4" height="13" fill="#585858"/><rect x="641" y="599" width="2" height="12" fill="#b2b2b2"/><rect x="645" y="603" width="4" height="8" fill="#585858"/><rect x="646" y="604" width="2" height="7" fill="#b2b2b2"/><rect x="651" y="604" width="4" height="7" fill="#585858"/><rect x="652" y="605" width="2" height="6" fill="#b2b2b2"/><rect x="656" y="602" width="4" height="9" fill="#585858"/><rect x="657" y="603" width="2" height="8" fill="#b2b2b2"/><rect x="662" y="603" width="4" height="8" fill="#585858"/><rect x="663" y="604" width="2" height="7" fill="#b2b2b2"/><rect x="667" y="604" width="4" height="7" fill="#585858"/><rect x="668" y="605" width="2" height="6" fill="#b2b2b2"/><rect x="672" y="603" width="4" height="8" fill="#585858"/><rect x="673" y="604" width="2" height="7" fill="#b2b2b2"/><rect x="678" y="609" width="4" height="2" fill="#585858"/><rect x="679" y="610" width="2" height="1" fill="#b2b2b2"/><rect x="683" y="608" width="4" height="3" fill="#585858"/><rect x="684" y="609" width="2" height="2" fill="#b2b2b2"/><rect x="689" y="606" width="4" height="5" fill="#585858"/><rect x="690" y="607" width="2" height="4" fill="#b2b2b2"/><rect x="694" y="604" width="4" height="7" fill="#585858"/><rect x="695" y="605" width="2" height="6" fill="#b2b2b2"/><rect x="700" y="597" width="4" height="14" fill="#585858"/><rect x="701" y="598" width="2" height="13" fill="#b2b2b2"/><rect x="705" y="608" width="4" height="3" fill="#585858"/><rect x="706" y="609" width="2" height="2" fill="#b2b2b2"/></g>
<polyline points="1,588.5 6,588.5 10,589.5 30,589.7 65,589.7 70,590.4 76,589.5 85,590.4 100,590.4 130,590 135,588.5 141,586.2 150,585.2 165,585.2 170,584 175,583.2 230,583.2 240,584.3 247,582.2 255,584.3 280,584.3 290,585.5 310,585.5 320,586.3 330,586.3 335,587.3 350,587.3 355,588.5 365,588.5 370,589.5 380,589.5 385,590.4 400,590.4 405,591 420,593.5 430,596.3 440,597.5 450,598.5 460,599.7 470,600.2 480,600.2 490,601.2 510,601.5 520,602.3 540,602.3 545,603.2 590,603.2 595,604.2 690,604.2 700,603.2 708,604.2" fill="none" stroke="#e04444" stroke-width="1.1"/>
</g>
<g class="crisp" stroke="#c0c0c0">
<line x1="748" y1="512.5" x2="752" y2="512.5"/>
<line x1="748" y1="522.5" x2="750" y2="522.5"/>
<line x1="748" y1="532.5" x2="752" y2="532.5"/>
<line x1="748" y1="542.5" x2="750" y2="542.5"/>
<line x1="748" y1="552.5" x2="752" y2="552.5"/>
<line x1="748" y1="561.5" x2="750" y2="561.5"/>
<line x1="748" y1="571.5" x2="752" y2="571.5"/>
<line x1="748" y1="581.5" x2="750" y2="581.5"/>
<line x1="748" y1="591.5" x2="752" y2="591.5"/>
<line x1="748" y1="601.5" x2="750" y2="601.5"/>
</g>
<text class="b" x="754.2" y="516" style="font-size:12px">100M</text>
<text x="754.3" y="534.9" style="font-size:10.7px">80M</text>
<text x="754.3" y="554.9" style="font-size:10.7px">60M</text>
<text x="754.3" y="573.9" style="font-size:10.7px">40M</text>
<text x="754.3" y="593.9" style="font-size:10.7px">20M</text>
<rect class="crisp" x="752.5" y="594.5" width="36" height="14" fill="#f4f4f4" stroke="#c0c0c0"/>
<text x="754.3" y="605" style="fill:#a8a8a8;font-size:10.7px">3,474K</text>
<rect class="crisp" x="1" y="615" width="132" height="12" fill="url(#tg)"/>
<path class="crisp" d="M133.5 615V627.5H1" fill="none" stroke="#c0c0c0"/>
<text x="3.4" y="623.8" style="fill:#1414a0;font-size:10.85px">RS (S&amp;P 500 INDEX) [*10]</text>
<rect class="crisp" x="134" y="615" width="141" height="12" fill="url(#tg)"/>
<path class="crisp" d="M275.5 615V627.5H134" fill="none" stroke="#c0c0c0"/>
<text x="137" y="623.8" style="fill:#ff1818;font-size:10.85px">Moving average (Simple 52)</text>
<g clip-path="url(#cr)">
<polyline points="12,627 15,628 28,632 40,637.6 50,640 60,643.6 70,645.4 80,647 90,650 104,653.6 114,657.6 124,661 132,663 140,666 148,666.6 162,669.4 170,672 180,673.6 196,678.4 212,681.4 226,685 244,690 256,694.4 266,696 278,699.4 294,701.4 300,701.4 320,705.4 340,707.4 360,709.4 376,711.4 390,712.4 404,712.4 424,714.4 440,717.4 450,719 470,722 490,725.4 510,728.4 530,730.4 550,732.4 570,735 590,737.4 600,738 620,740.4 640,742.4 666,745 676,746.2 692,748 707.4,750.4" fill="none" stroke="#ff1010" stroke-width="1.15" stroke-linejoin="round"/>
<polyline points="0,681 5.5,671 10.5,685.4 16.5,682 21.5,670 27.5,666.4 32.5,691.4 37.5,689.4 43.5,687.4 48.5,683.4 54.5,689.4 59.5,694.4 65.5,692 70.5,698.4 76.5,698.4 81.5,694.4 86.5,702 92.5,708.4 97.5,707.4 103.5,711.4 108.5,716.4 114.5,714 119.5,718.4 125.5,703.4 130.5,708 135.5,712.4 141.5,712.4 146.5,677.4 152.5,680.4 157.5,676.4 163.5,689.4 168.5,693 174.5,695.4 179.5,689.4 184.5,701.4 190.5,693.4 195.5,698.4 201.5,690.4 206.5,689.4 212.5,694.4 217.5,701.4 223.5,707 228.5,709.4 233.5,711.4 239.5,706.4 244.5,721.4 250.5,729.4 255.5,727.4 261.5,719 266.5,720 272.5,718 277.5,724.4 282.5,710.4 288.5,711.4 293.5,714.4 299.5,715.4 304.5,720.4 310.5,721.4 315.5,722.6 321.5,727 326.5,729.4 331.5,728.4 337.5,723.6 342.5,722.4 348.5,724.4 353.5,720.4 359.5,721.4 364.5,729.4 370.5,731.4 375.5,730.4 380.5,732.4 386.5,734.4 391.5,735.4 397.5,732.4 402.5,729.4 408.5,728.4 413.5,731.4 419.5,727.4 424.5,729.4 429.5,731.4 435.5,731.4 440.5,736.4 446.5,738.4 451.5,731.4 457.5,732.4 462.5,738.4 468.5,742.4 473.5,740.4 478.5,734.4 484.5,735.4 489.5,735.4 495.5,738.4 500.5,743.4 506.5,743.4 511.5,745.4 517.5,747.4 522.5,750.4 527.5,750.4 533.5,752.4 538.5,754.4 544.5,752.4 549.5,752.4 555.5,751.4 560.5,754.4 566.5,753.4 571.5,751.4 576.5,747.4 582.5,749.4 587.5,747.4 593.5,747.4 598.5,749.4 604.5,755.4 609.5,754.4 615.5,757.4 620.5,755.4 625.5,750 631.5,752.4 636.5,751 642.5,755.4 647.5,759.4 653.5,761.4 658.5,758.4 664.5,760.4 669.5,763.4 674.5,763.4 680.5,762.4 685.5,760.4 691.5,761.4 696.5,764 702.5,768.4 707.5,773" fill="none" stroke="#1c1ca0" stroke-width="1.15" stroke-linejoin="round"/>
</g>
<g class="crisp" stroke="#c0c0c0">
<line x1="748" y1="622.5" x2="750" y2="622.5"/>
<line x1="748" y1="629.5" x2="752" y2="629.5"/>
<line x1="748" y1="637.5" x2="750" y2="637.5"/>
<line x1="748" y1="644.5" x2="752" y2="644.5"/>
<line x1="748" y1="651.5" x2="750" y2="651.5"/>
<line x1="748" y1="659.5" x2="752" y2="659.5"/>
<line x1="748" y1="666.5" x2="750" y2="666.5"/>
<line x1="748" y1="674.5" x2="752" y2="674.5"/>
<line x1="748" y1="681.5" x2="750" y2="681.5"/>
<line x1="748" y1="688.5" x2="752" y2="688.5"/>
<line x1="748" y1="696.5" x2="750" y2="696.5"/>
<line x1="748" y1="703.5" x2="752" y2="703.5"/>
<line x1="748" y1="710.5" x2="750" y2="710.5"/>
<line x1="748" y1="718.5" x2="752" y2="718.5"/>
<line x1="748" y1="725.5" x2="750" y2="725.5"/>
<line x1="748" y1="733.5" x2="752" y2="733.5"/>
<line x1="748" y1="740.5" x2="750" y2="740.5"/>
<line x1="748" y1="747.5" x2="752" y2="747.5"/>
<line x1="748" y1="755.5" x2="750" y2="755.5"/>
<line x1="748" y1="762.5" x2="752" y2="762.5"/>
<line x1="748" y1="770.5" x2="750" y2="770.5"/>
<line x1="748" y1="777.5" x2="752" y2="777.5"/>
</g>
<text x="754.3" y="631.9" style="font-size:10.7px">3.2</text>
<text class="b" x="754.2" y="647.7" style="font-size:12px">3</text>
<text x="754.3" y="661.9" style="font-size:10.7px">2.8</text>
<text x="754.3" y="676.9" style="font-size:10.7px">2.6</text>
<text x="754.3" y="690.9" style="font-size:10.7px">2.4</text>
<text x="754.3" y="705.9" style="font-size:10.7px">2.2</text>
<text class="b" x="754.2" y="721.7" style="font-size:12px">2</text>
<text x="754.3" y="735.9" style="font-size:10.7px">1.8</text>
<text x="754.3" y="749.9" style="font-size:10.7px">1.6</text>
<text x="754.3" y="764.9" style="font-size:10.7px">1.4</text>
<rect class="crisp" x="752.5" y="743.5" width="35" height="14" fill="#f4f4f4" stroke="#c0c0c0"/>
<text x="754.3" y="754" style="fill:#ff1010;font-size:10.7px">1.5707</text>
<rect class="crisp" x="752.5" y="763.5" width="35" height="14" fill="#f4f4f4" stroke="#c0c0c0"/>
<text x="754.3" y="774" style="fill:#1414a0;font-size:10.7px">1.2612</text>
<g class="crisp" stroke="#c0c0c0">
<line x1="27.5" y1="781" x2="27.5" y2="785" />
<line x1="76.5" y1="781" x2="76.5" y2="785" />
<line x1="119.5" y1="781" x2="119.5" y2="785" />
<line x1="168.5" y1="781" x2="168.5" y2="785" />
<line x1="217.5" y1="781" x2="217.5" y2="785" />
<line x1="261.5" y1="781" x2="261.5" y2="785" />
<line x1="310.5" y1="781" x2="310.5" y2="785" />
<line x1="359.5" y1="781" x2="359.5" y2="785" />
<line x1="408.5" y1="781" x2="408.5" y2="785" />
<line x1="451.5" y1="781" x2="451.5" y2="785" />
<line x1="500.5" y1="781" x2="500.5" y2="785" />
<line x1="544.5" y1="781" x2="544.5" y2="785" />
<line x1="593.5" y1="781" x2="593.5" y2="785" />
<line x1="642.5" y1="781" x2="642.5" y2="785" />
<line x1="691.5" y1="781" x2="691.5" y2="785" />
<line x1="734.5" y1="781" x2="734.5" y2="785" />
</g>
<text x="27.6" y="795.2" text-anchor="middle" style="font-size:10.7px">Sep</text>
<text x="76.6" y="795.2" text-anchor="middle" style="font-size:10.7px">Nov</text>
<text class="b" x="119.6" y="795.2" text-anchor="middle" style="font-size:12px">2012</text>
<text x="168.6" y="795.2" text-anchor="middle" style="font-size:10.7px">Mar</text>
<text x="217.6" y="795.2" text-anchor="middle" style="font-size:10.7px">May</text>
<text x="261.6" y="795.2" text-anchor="middle" style="font-size:10.7px">Jul</text>
<text x="310.6" y="795.2" text-anchor="middle" style="font-size:10.7px">Sep</text>
<text x="359.6" y="795.2" text-anchor="middle" style="font-size:10.7px">Nov</text>
<text class="b" x="408.6" y="795.2" text-anchor="middle" style="font-size:12px">2013</text>
<text x="451.6" y="795.2" text-anchor="middle" style="font-size:10.7px">Mar</text>
<text x="500.6" y="795.2" text-anchor="middle" style="font-size:10.7px">May</text>
<text x="544.6" y="795.2" text-anchor="middle" style="font-size:10.7px">Jul</text>
<text x="593.6" y="795.2" text-anchor="middle" style="font-size:10.7px">Sep</text>
<text x="642.6" y="795.2" text-anchor="middle" style="font-size:10.7px">Nov</text>
<text class="b" x="691.6" y="795.2" text-anchor="middle" style="font-size:12px">2014</text>
<text x="734.6" y="795.2" text-anchor="middle" style="font-size:10.7px">Mar</text>
</svg></body></html>
